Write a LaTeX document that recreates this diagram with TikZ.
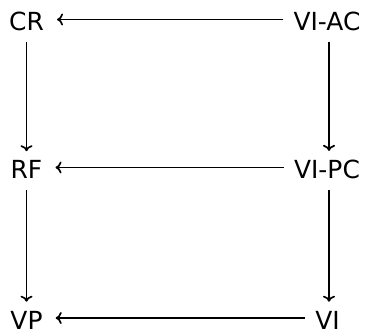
\documentclass[tikz,border=0pt]{standalone}
\usepackage{fontspec}
\setmainfont{DejaVu Sans}
\usetikzlibrary{arrows.meta}
\begin{document}
\begin{tikzpicture}[x=1bp,y=-1bp,
  >={To[length=6bp,width=12bp]},
  obj/.style={inner sep=0pt,font=\fontsize{25}{30}\selectfont},
  harr/.style={->,line width=1.7pt,shorten <=10bp,shorten >=13bp},
  varr/.style={->,line width=1.7pt,shorten <=11bp,shorten >=9bp}]
  \useasboundingbox (0,0) rectangle (368,333);
  % grid of objects
  \node[obj] (cr)   at (26.5,21.5)  {CR};
  \node[obj] (viac) at (327,21.5)   {VI-AC};
  \node[obj] (rf)   at (26.5,169.5) {RF};
  \node[obj] (vipc) at (327,169.5)  {VI-PC};
  \node[obj] (vp)   at (26.5,320)   {VP};
  \node[obj] (vi)   at (327.5,320)  {VI};
  % horizontal maps, drawn at the math axis
  \draw[harr] ([yshift=2bp]viac.west) -- ([yshift=2bp]cr.east);
  \draw[harr] ([yshift=2bp]vipc.west) -- ([yshift=2bp]rf.east);
  \draw[harr] ([yshift=2bp]vi.west)   -- ([yshift=2bp]vp.east);
  % vertical maps
  \draw[varr] (cr.south)   -- (rf.north);
  \draw[varr] (rf.south)   -- (vp.north);
  \draw[varr] ([xshift=2bp]viac.south) -- ([xshift=2bp]vipc.north);
  \draw[varr] ([xshift=2bp]vipc.south) -- ([xshift=1.5bp]vi.north);
\end{tikzpicture}
\end{document}
